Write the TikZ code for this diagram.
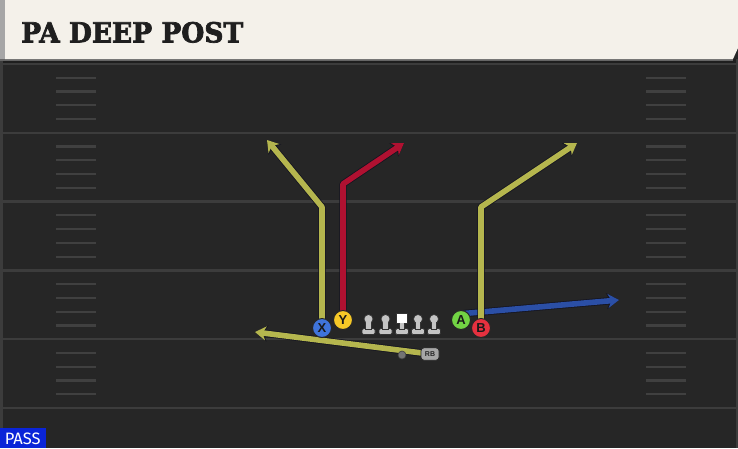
\documentclass[tikz,border=0pt]{standalone}
\usepackage{fontspec}
\setmainfont{Liberation Sans}
\newfontfamily\titlefont{DejaVu Serif}[UprightFont=* Bold, FakeBold=2.5]
\newfontfamily\passfont{Fira Sans}
\usetikzlibrary{arrows.meta}
\definecolor{fieldbg}{HTML}{262626}
\definecolor{yardline}{HTML}{3C3C3C}
\definecolor{hashc}{HTML}{404040}
\definecolor{headbg}{HTML}{F4F1EA}
\definecolor{routey}{HTML}{B5B64E}
\definecolor{router}{HTML}{B01131}
\definecolor{routeb}{HTML}{2B4FA6}
\definecolor{colx}{HTML}{3F74DA}
\definecolor{coly}{HTML}{F6C827}
\definecolor{cola}{HTML}{72D444}
\definecolor{colb}{HTML}{E5313F}
\definecolor{passblue}{HTML}{0A24D8}
\definecolor{linegrey}{HTML}{C4C4C4}
\definecolor{outline}{HTML}{141420}
\tikzset{
  route/.style={draw=#1, line width=5.6pt, line join=round,
    -{Stealth[length=11pt,width=14pt,inset=3.5pt]},
    preaction={draw=outline, line width=7.2pt, line join=round,
      -{Stealth[length=12.5pt,width=16pt,inset=4pt]}}},
  player/.style={circle, minimum size=19pt, inner sep=0pt, fill=#1,
    draw=black!85, line width=1pt, font=\bfseries\fontsize{13}{13}\selectfont, text=black!90},
  yard/.style={draw=yardline, line width=2.4pt},
  hashmark/.style={draw=hashc, line width=2.2pt},
  linepart/.style={fill=linegrey, draw=black!80, line width=0.7pt},
  pics/lineman/.style={code={
    \filldraw[linepart, rounded corners=1.5pt] (-6.5,4) rectangle (6.5,10);
    \filldraw[linepart] (-2.8,-4) rectangle (2.8,4.5);
    \filldraw[linepart] (0,-5.5) circle (4.5pt);
    \fill[linegrey] (-2.1,-4.5) rectangle (2.1,4.8);
  }},
  pics/centerman/.style={code={
    \filldraw[linepart, rounded corners=1.5pt] (-6.5,4) rectangle (6.5,10);
    \filldraw[linepart] (-2.8,-2) rectangle (2.8,4.5);
    \filldraw[fill=white, draw=black!80, line width=0.7pt] (-5.2,-11.5) rectangle (5.2,-1.5);
    \fill[linegrey] (-2.1,-2) rectangle (2.1,4.8);
  }}
}
\begin{document}
\begin{tikzpicture}[x=1pt,y=-1pt]
\useasboundingbox (0,0) rectangle (738,448);
% field
\fill[fieldbg] (0,0) rectangle (738,448);
\fill[black!88] (0,59) rectangle (738,63);
\fill[yardline] (0,59) rectangle (2.5,448);
\fill[yardline] (736,59) rectangle (738,448);
% yard lines and hash marks
\foreach \k in {0,...,5} {
  \draw[yard] (2,{64+68.8*\k}) -- (736,{64+68.8*\k});
}
\foreach \k in {0,...,4} {
  \foreach \j in {1,...,4} {
    \draw[hashmark] (56,{64+68.8*\k+13.76*\j}) -- (96,{64+68.8*\k+13.76*\j});
    \draw[hashmark] (646,{64+68.8*\k+13.76*\j}) -- (686,{64+68.8*\k+13.76*\j});
  }
}
% header
\fill[black!60] (0,58.5) rectangle (733,61);
\fill[headbg] (5,0) -- (738,0) -- (738,48) -- (733,59) -- (5,59) -- cycle;
\fill[black!35] (0,0) rectangle (5,59);
\node[anchor=south west, inner sep=0pt, text=black!88] (title) at (21,43)
  {\resizebox{222pt}{20.5pt}{\titlefont PA DEEP POST}};
% pass label
\fill[passblue] (0,428) rectangle (46,448);
\node[text=white, inner sep=0pt, font=\passfont\fontsize{16.5}{16.5}\selectfont] (pass) at (22.8,438.5) {PASS};
% anchor coordinates for players
\coordinate (xpos) at (322,328);
\coordinate (ypos) at (343,320);
\coordinate (apos) at (461,320);
\coordinate (bpos) at (481,328);
\coordinate (rbpos) at (430,354);
% route points
\coordinate (xbreak) at (322,207);
\coordinate (xend) at (267,140);
\coordinate (ybreak) at (343,184);
\coordinate (yend) at (404,143);
\coordinate (astart) at (464,313.5);
\coordinate (aend) at (619,300);
\coordinate (bbreak) at (481,207);
\coordinate (bend) at (577,143);
\coordinate (rbend) at (255,332);
% routes
\draw[route=routeb] (astart) -- (aend);
\draw[route=routey] (rbpos) -- (rbend);
\draw[route=routey] (xpos) -- (xbreak) -- (xend);
\draw[route=router] (ypos) -- (ybreak) -- (yend);
\draw[route=routey] (bpos) -- (bbreak) -- (bend);
% offensive line
\pic at (368.5,324.5) {lineman};
\pic at (385.5,324.5) {lineman};
\pic at (402,324.5) {centerman};
\pic at (418,324.5) {lineman};
\pic at (434,324.5) {lineman};
% ball / qb dot
\node[circle, fill=black!55, draw=black!75, line width=0.6pt, minimum size=8pt, inner sep=0pt] (qb) at (402,355) {};
% players
\node[player=colx] (X) at (xpos) {X};
\node[player=coly] (Y) at (ypos) {Y};
\node[player=cola] (A) at (apos) {A};
\node[player=colb] (B) at (bpos) {B};
\node[rectangle, rounded corners=3pt, minimum width=18pt, minimum height=12.5pt, inner sep=0pt,
  fill=black!35, draw=black!85, line width=0.8pt, font=\bfseries\fontsize{7}{7}\selectfont, text=black!85] (RB) at (rbpos) {RB};
\end{tikzpicture}
\end{document}
